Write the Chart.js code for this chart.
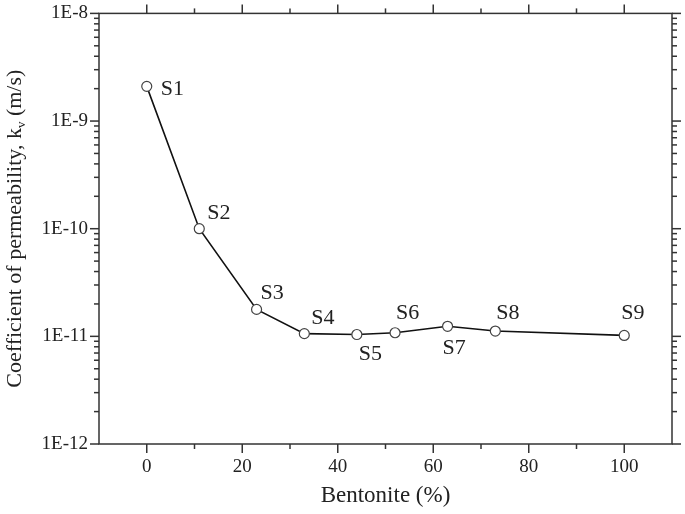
<!DOCTYPE html>
<html lang="en">
<head>
<meta charset="UTF-8">
<title>Coefficient of permeability vs bentonite content</title>
<script src="https://cdn.jsdelivr.net/npm/chart.js@4"></script>
<style>
  html, body { margin: 0; padding: 0; background: #fff; }
  #wrap { width: 685px; height: 514px; }
</style>
</head>
<body>
<div id="wrap"><canvas id="chart" width="685" height="514"></canvas></div>
<script>
// data
const sampleNames = ['S1', 'S2', 'S3', 'S4', 'S5', 'S6', 'S7', 'S8', 'S9'];
const bentonite = [0, 11, 23, 33, 44, 52, 63, 73, 100];
const permeability = [2.1e-9, 1.0e-10, 1.78e-11, 1.06e-11, 1.04e-11, 1.08e-11, 1.24e-11, 1.12e-11, 1.02e-11];
const xTicks = [0, 20, 40, 60, 80, 100];
const xMinorTicks = [10, 30, 50, 70, 90];
const yTicks = [1e-12, 1e-11, 1e-10, 1e-9, 1e-8];
const yTickLabels = ['1E-12', '1E-11', '1E-10', '1E-9', '1E-8'];

// where each sample label sits relative to its marker (px)
const labelOffsets = [[14, 3], [8, -15], [4, -16], [7, -15], [2, 20], [1, -20], [-5, 22], [1, -18], [-3, -22]];

const FONT = "'Liberation Serif', 'Times New Roman', serif";
const INK = '#222';
const AXIS = '#333';

const framePlugin = {
  id: 'frame',
  afterDraw(chart) {
    const { ctx, chartArea: a, scales: { x, y } } = chart;
    ctx.save();
    ctx.strokeStyle = AXIS;
    ctx.lineWidth = 1.5;
    ctx.strokeRect(a.left, a.top, a.right - a.left, a.bottom - a.top);

    const tick = (x1, y1, x2, y2) => {
      ctx.beginPath(); ctx.moveTo(x1, y1); ctx.lineTo(x2, y2); ctx.stroke();
    };
    // x ticks, outward on bottom and top
    xTicks.forEach(v => {
      const px = x.getPixelForValue(v);
      tick(px, a.bottom, px, a.bottom + 9);
      tick(px, a.top, px, a.top - 9);
    });
    xMinorTicks.forEach(v => {
      const px = x.getPixelForValue(v);
      tick(px, a.bottom, px, a.bottom + 5);
      tick(px, a.top, px, a.top - 5);
    });
    // y ticks, outward on left and right
    yTicks.forEach((v, i) => {
      const py = y.getPixelForValue(v);
      tick(a.left, py, a.left - 9, py);
      tick(a.right, py, a.right + 9, py);
      if (i < yTicks.length - 1) {
        for (let m = 2; m <= 9; m++) {
          const pm = y.getPixelForValue(v * m);
          tick(a.left, pm, a.left - 5, pm);
          tick(a.right, pm, a.right + 5, pm);
        }
      }
    });

    // sample labels
    ctx.fillStyle = INK;
    ctx.font = '22px ' + FONT;
    ctx.textBaseline = 'middle';
    ctx.textAlign = 'left';
    sampleNames.forEach((name, i) => {
      const px = x.getPixelForValue(bentonite[i]);
      const py = y.getPixelForValue(permeability[i]);
      ctx.fillText(name, px + labelOffsets[i][0], py + labelOffsets[i][1]);
    });

    // x axis title
    ctx.font = '23px ' + FONT;
    ctx.textAlign = 'center';
    ctx.fillText('Bentonite (%)', (a.left + a.right) / 2, 496);

    // y axis title with subscript v
    ctx.translate(13, (a.top + a.bottom) / 2);
    ctx.rotate(-Math.PI / 2);
    const big = '22px ' + FONT, small = '13px ' + FONT;
    const p1 = 'Coefficient of permeability, k', p2 = 'v', p3 = ' (m/s)';
    ctx.font = big; const w1 = ctx.measureText(p1).width, w3 = ctx.measureText(p3).width;
    ctx.font = small; const w2 = ctx.measureText(p2).width;
    let cx = -(w1 + w2 + w3) / 2;
    ctx.textAlign = 'left';
    ctx.textBaseline = 'alphabetic';
    ctx.font = big; ctx.fillText(p1, cx, 8); cx += w1;
    ctx.font = small; ctx.fillText(p2, cx, 12); cx += w2;
    ctx.font = big; ctx.fillText(p3, cx, 8);
    ctx.restore();
  }
};

new Chart(document.getElementById('chart'), {
  type: 'line',
  data: {
    datasets: [{
      data: bentonite.map((b, i) => ({ x: b, y: permeability[i] })),
      borderColor: '#111',
      borderWidth: 1.6,
      pointRadius: 5,
      pointBackgroundColor: '#fff',
      pointBorderColor: '#444',
      pointBorderWidth: 1.2,
      tension: 0
    }]
  },
  options: {
    responsive: false,
    animation: false,
    devicePixelRatio: 1,
    layout: { padding: { top: 12, right: 13, left: 0, bottom: 0 } },
    plugins: { legend: { display: false }, tooltip: { enabled: false } },
    scales: {
      x: {
        type: 'linear',
        min: -10,
        max: 110,
        afterBuildTicks: s => { s.ticks = xTicks.map(v => ({ value: v })); },
        afterFit: s => { s.height = 70; },
        grid: { display: true, drawOnChartArea: false, drawTicks: true, tickLength: 9, tickColor: 'rgba(0,0,0,0)' },
        border: { display: false },
        ticks: { color: INK, font: { family: FONT, size: 19 }, padding: 3, maxRotation: 0 }
      },
      y: {
        type: 'logarithmic',
        min: 1e-12,
        max: 1e-8,
        afterBuildTicks: s => { s.ticks = yTicks.map(v => ({ value: v })); },
        afterFit: s => { s.width = 99; },
        grid: { display: true, drawOnChartArea: false, drawTicks: true, tickLength: 9, tickColor: 'rgba(0,0,0,0)' },
        border: { display: false },
        ticks: {
          color: INK,
          font: { family: FONT, size: 19 },
          padding: 2,
          callback: v => yTickLabels[yTicks.findIndex(t => Math.abs(t - v) / t < 1e-6)] ?? ''
        }
      }
    }
  },
  plugins: [framePlugin]
});
</script>
</body>
</html>
